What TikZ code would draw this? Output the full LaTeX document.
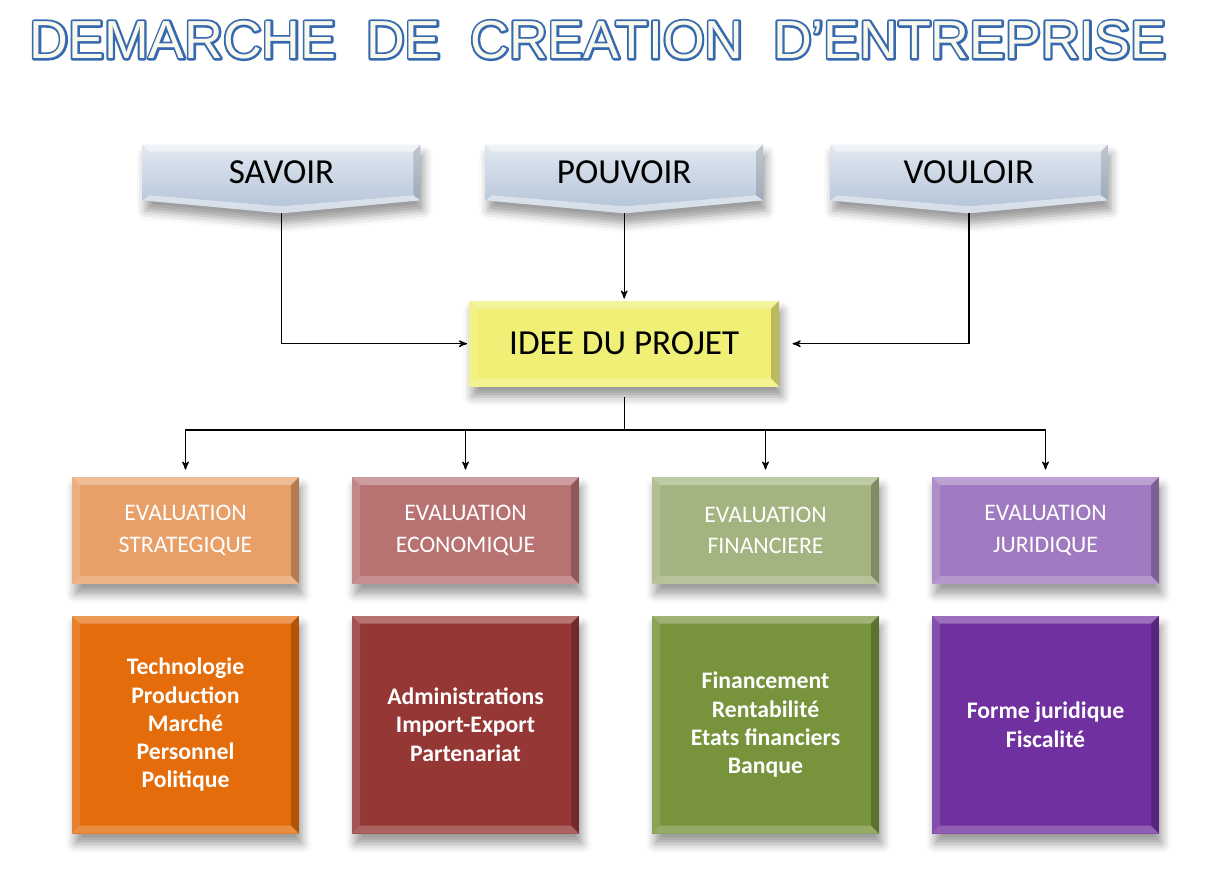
\documentclass[tikz,border=0pt]{standalone}
\usepackage{fontspec}
\setmainfont{Carlito}
\newfontfamily\titlefont{Liberation Sans}
\newfontfamily\titlerim[FakeBold=8]{Liberation Sans}
\usetikzlibrary{arrows,positioning,calc,shadows.blur}

\definecolor{steeltop}{RGB}{226,233,242}
\definecolor{steelbot}{RGB}{178,194,214}
\definecolor{ideeyel}{RGB}{240,240,118}
\definecolor{titleblue}{RGB}{55,105,175}
\definecolor{titlefill}{RGB}{248,248,236}
\definecolor{evorange}{RGB}{232,160,104}
\definecolor{evred}{RGB}{184,114,114}
\definecolor{evgreen}{RGB}{164,180,128}
\definecolor{evpurple}{RGB}{160,122,192}
\definecolor{lsorange}{RGB}{228,108,10}
\definecolor{lsred}{RGB}{149,55,53}
\definecolor{lsgreen}{RGB}{119,147,60}
\definecolor{lspurple}{RGB}{112,48,160}

\newcommand\titletext{DEMARCHE\ \ DE\ \ CREATION\ \ D’ENTREPRISE}

% chevron body round an empty placeholder node
\newcommand\chevron[1]{%
  \coordinate (#1tip) at ($(#1.south)+(0,-0.26)$);
  \shade[top color=steeltop,bottom color=steelbot,softshadow]
    (#1.north west) -- (#1.north east) -- (#1.south east) -- (#1tip)
    -- (#1.south west) -- cycle;
  \fill[white,opacity=.5] (#1.north west) -- (#1.north east)
    -- ($(#1.north east)+(-.14,-.14)$) -- ($(#1.north west)+(.14,-.14)$) -- cycle;
  \fill[black,opacity=.15] (#1.north east) -- (#1.south east)
    -- ($(#1.south east)+(-.14,.1)$) -- ($(#1.north east)+(-.14,-.14)$) -- cycle;
  \fill[white,opacity=.45] (#1.south west) -- (#1tip) -- (#1.south east)
    -- ($(#1.south east)+(-.14,.1)$) -- ($(#1tip)+(0,.14)$)
    -- ($(#1.south west)+(.14,.1)$) -- cycle;}

\begin{document}
\begin{tikzpicture}[auto,node distance=2cm,
        link/.style={->,>=stealth',shorten >=1pt,line width=.7pt},
        softshadow/.style={blur shadow={shadow xshift=.06cm,shadow yshift=-.2cm,
          shadow blur radius=.18cm,shadow opacity=40}},
        bevel/.style={path picture={
          \coordinate (nw) at (path picture bounding box.north west);
          \coordinate (ne) at (path picture bounding box.north east);
          \coordinate (sw) at (path picture bounding box.south west);
          \coordinate (se) at (path picture bounding box.south east);
          \fill[white,opacity=.30] (nw) -- (ne) -- ($(ne)+(-.16,-.16)$) -- ($(nw)+(.16,-.16)$) -- cycle;
          \fill[white,opacity=.15] (nw) -- ($(nw)+(.16,-.16)$) -- ($(sw)+(.16,.16)$) -- (sw) -- cycle;
          \fill[black,opacity=.22] (ne) -- (se) -- ($(se)+(-.16,.16)$) -- ($(ne)+(-.16,-.16)$) -- cycle;
          \fill[white,opacity=.22] (sw) -- (se) -- ($(se)+(-.16,.16)$) -- ($(sw)+(.16,.16)$) -- cycle;}},
        topbox/.style={minimum width=5.54cm,minimum height=1.1cm},
        toplabel/.style={font=\fontsize{20}{24}\selectfont},
        ideebox/.style={fill=ideeyel,bevel,softshadow,minimum width=6.2cm,
          minimum height=1.72cm,font=\fontsize{20}{24}\selectfont},
        evalbox/.style={fill=#1,bevel,softshadow,minimum width=4.54cm,
          minimum height=2.14cm,text=white,align=center,
          font=\fontsize{13.5}{18}\selectfont},
        listbox/.style={fill=#1,bevel,softshadow,minimum width=4.54cm,
          minimum height=4.36cm,text=white,align=center,
          font=\bfseries\fontsize{13.5}{16}\selectfont}]

  \useasboundingbox (0,0) rectangle (24.2,-17.68);

  \node[text=titleblue,line join=round,miter limit=1] (titlerim) at (11.96,-0.80)
    {\titlerim\fontsize{30.5}{36}\selectfont\titletext};
  \node[text=titlefill] (title) at (titlerim)
    {\titlefont\fontsize{30.5}{36}\selectfont\titletext};

  \node[topbox] (sav) at (5.63,-3.45) {};
  \node[topbox] (pou) [right=1.3cm of sav] {};
  \node[topbox] (vou) [right=1.34cm of pou] {};
  \chevron{sav}
  \chevron{pou}
  \chevron{vou}
  \node[toplabel] (savtext) at (sav) {SAVOIR};
  \node[toplabel] (poutext) at (pou) {POUVOIR};
  \node[toplabel] (voutext) at (vou) {VOULOIR};

  \node[ideebox] (idee) [below=2cm of pou] {IDEE DU PROJET};

  \node[evalbox=evorange] (evstrat) at (3.71,-10.61) {EVALUATION\\STRATEGIQUE};
  \node[evalbox=evred] (evecon) at (9.31,-10.61) {EVALUATION\\ECONOMIQUE};
  \node[evalbox=evgreen] (evfin) at (15.31,-10.61) {EVALUATION\\FINANCIERE};
  \node[evalbox=evpurple] (evjur) at (20.91,-10.61) {EVALUATION\\JURIDIQUE};

  \node[listbox=lsorange] (lsstrat) [below=0.62cm of evstrat]
    {Technologie\\Production\\Marché\\Personnel\\Politique};
  \node[listbox=lsred] (lsecon) [below=0.62cm of evecon]
    {Administrations\\Import-Export\\Partenariat};
  \node[listbox=lsgreen] (lsfin) [below=0.62cm of evfin]
    {Financement\\Rentabilité\\Etats financiers\\Banque};
  \node[listbox=lspurple] (lsjur) [below=0.62cm of evjur]
    {Forme juridique\\Fiscalité};

  \draw[link] (savtip) |- (idee.west);
  \draw[link] (poutip) -- (idee.north);
  \draw[link,shorten >=.26cm] (voutip) |- (idee.east);

  \coordinate (split) at ($(idee.south)+(0,-.86)$);
  \draw[line width=.7pt,shorten <=.2cm] (idee.south) -- (split);
  \foreach \e in {evstrat,evecon,evfin,evjur}
    \draw[link,shorten >=.14cm] (split) -| (\e.north);

\end{tikzpicture}
\end{document}
